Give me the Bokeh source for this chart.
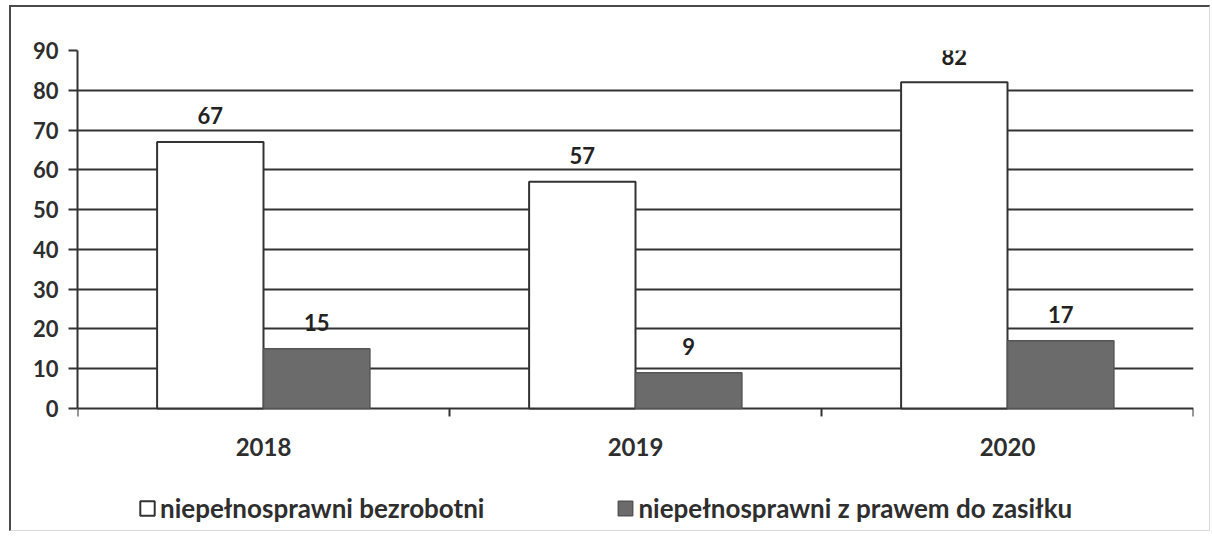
from bokeh.plotting import figure
from bokeh.models import (ColumnDataSource, FixedTicker, Legend, LegendItem, Range1d)
from bokeh.core.properties import value
from bokeh.embed import file_html
from bokeh.resources import INLINE

# ---- data ----
years = ["2018", "2019", "2020"]
bezrobotni = [67, 57, 82]
z_prawem = [15, 9, 17]
series_names = ["niepełnosprawni bezrobotni", "niepełnosprawni z prawem do zasiłku"]
y_ticks = [0, 10, 20, 30, 40, 50, 60, 70, 80, 90]

FONT = "Lato"
TXT = "#2e2e2e"
LINE = "#333333"
GRAY = "#6b6b6b"
FS = "22px"

n = len(years)
centers = [i + 0.5 for i in range(n)]
bounds = list(range(n + 1))
off = 0.143
bw = 0.286
Y_MAX = 90
Y_LOW = -30.17   # space under the axis for year labels and the legend

src1 = ColumnDataSource(dict(x=[c - off for c in centers], top=bezrobotni,
                             lab=[str(v) for v in bezrobotni]))
src2 = ColumnDataSource(dict(x=[c + off for c in centers], top=z_prawem,
                             lab=[str(v) for v in z_prawem]))
src_years = ColumnDataSource(dict(x=centers, y=[0] * n, lab=years))
src_ticks = ColumnDataSource(dict(x=bounds, y0=[0] * len(bounds), y1=[-2.0] * len(bounds)))

p = figure(frame_width=1116, frame_height=478, output_backend="svg",
           toolbar_location=None, x_axis_location=None,
           x_range=Range1d(0, n), y_range=Range1d(Y_LOW, Y_MAX),
           min_border_left=66, min_border_right=16, min_border_top=43,
           min_border_bottom=2)
p.margin = (5, 0, 0, 9)
p.outline_line_color = None
p.styles = {"border-top": "2px solid #4a4a4a", "border-left": "2px solid #4a4a4a",
            "border-right": "1px solid #d8d8d8", "border-bottom": "1px solid #d8d8d8"}

# grid (the 0 line doubles as the category axis line)
p.xgrid.grid_line_color = None
p.ygrid.ticker = FixedTicker(ticks=y_ticks)
p.ygrid.grid_line_color = LINE
p.ygrid.grid_line_width = 2

r1 = p.vbar(x="x", top="top", width=bw, bottom=0, source=src1,
            fill_color="white", line_color=LINE, line_width=2)
r2 = p.vbar(x="x", top="top", width=bw, bottom=0, source=src2,
            fill_color=GRAY, line_color="#555555", line_width=1.5)

for s in (src1, src2):
    p.text(x="x", y="top", text="lab", source=s, text_align="center",
           text_baseline="middle", y_offset=-26, text_font=value(FONT),
           text_font_size=FS, text_font_style="bold", text_color="#222222")

# category axis: tick marks between categories and year labels
p.segment(x0="x", y0="y0", x1="x", y1="y1", source=src_ticks,
          line_color=LINE, line_width=2)
p.text(x="x", y="y", text="lab", source=src_years, text_align="center",
       text_baseline="middle", y_offset=39, text_font=value(FONT),
       text_font_size="24px", text_font_style="bold", text_color=TXT)

# y axis
p.yaxis.ticker = FixedTicker(ticks=y_ticks)
p.yaxis.bounds = (0, Y_MAX)
p.yaxis.axis_line_color = LINE
p.yaxis.axis_line_width = 2
p.yaxis.major_tick_line_color = LINE
p.yaxis.major_tick_line_width = 2
p.yaxis.major_tick_in = 0
p.yaxis.major_tick_out = 9
p.yaxis.minor_tick_line_color = None
p.yaxis.major_label_standoff = 10
p.yaxis.major_label_text_font = FONT
p.yaxis.major_label_text_font_size = FS
p.yaxis.major_label_text_font_style = "bold"
p.yaxis.major_label_text_color = TXT

legend = Legend(items=[LegendItem(label=series_names[0], renderers=[r1]),
                       LegendItem(label=series_names[1], renderers=[r2])],
                orientation="horizontal", location=(61, 4),
                spacing=132, glyph_width=18, glyph_height=18,
                label_text_font=FONT, label_text_font_size="26px",
                label_text_font_style="bold", label_text_color=TXT,
                label_standoff=4, border_line_color=None,
                background_fill_alpha=0, margin=0, padding=4)
p.add_layout(legend, "center")

open("out.html", "w").write(file_html(p, INLINE))
